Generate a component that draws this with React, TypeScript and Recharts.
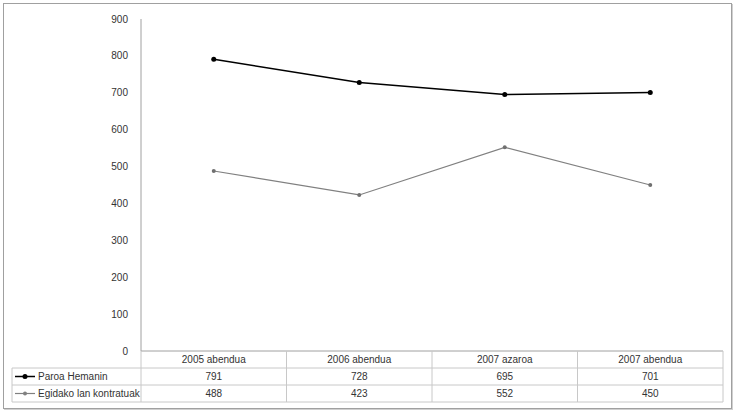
import React from 'react';
import { LineChart, Line, XAxis, YAxis } from 'recharts';

const categories = ['2005 abendua', '2006 abendua', '2007 azaroa', '2007 abendua'];
const paroaHemanin = [791, 728, 695, 701];
const egidakoLan = [488, 423, 552, 450];
const yTicks = [0, 100, 200, 300, 400, 500, 600, 700, 800, 900];

const seriesNames = ['Paroa Hemanin', 'Egidako lan kontratuak'];
const seriesColors = ['#000000', '#808080'];

const W = 735;
const H = 413;
const Y_W = 141;
const MARGIN = { top: 19, right: 12, bottom: 0, left: 0 };
const FONT = 'Liberation Sans, Arial, sans-serif';
const TEXT = '#333333';
const TABLE_LINE = '#c8c8c8';
const ROW_H = 17;
const LEGEND_LEFT = 12;

const data = categories.map((name, i) => ({
  name,
  paroa: paroaHemanin[i],
  egidako: egidakoLan[i],
}));

const colW = (W - MARGIN.left - MARGIN.right - Y_W) / categories.length;

// one column of the data table under each category, the first tick also draws the legend column
const TableTick = (props: any) => {
  const { x, y, payload, index } = props;
  const left = x - colW / 2;
  const right = x + colW / 2;
  const rows = [paroaHemanin[index], egidakoLan[index]];
  return (
    <g>
      <text x={x} y={y + ROW_H / 2 + 1} textAnchor="middle" dominantBaseline="middle" fontSize={10} fill={TEXT} fontFamily={FONT}>
        {payload.value}
      </text>
      {rows.map((v, r) => (
        <text key={r} x={x} y={y + ROW_H * (r + 1) + ROW_H / 2 + 1} textAnchor="middle" dominantBaseline="middle" fontSize={10} fill={TEXT} fontFamily={FONT}>
          {v}
        </text>
      ))}
      <line x1={right} x2={right} y1={y} y2={y + ROW_H * 3} stroke={TABLE_LINE} />
      {index === 0 && (
        <g>
          <line x1={left} x2={left} y1={y} y2={y + ROW_H * 3} stroke={TABLE_LINE} />
          <line x1={LEGEND_LEFT} x2={LEGEND_LEFT} y1={y + ROW_H} y2={y + ROW_H * 3} stroke={TABLE_LINE} />
          {[1, 2, 3].map((r) => (
            <line key={r} x1={LEGEND_LEFT} x2={left + colW * categories.length} y1={y + ROW_H * r} y2={y + ROW_H * r} stroke={TABLE_LINE} />
          ))}
          {seriesNames.map((s, r) => {
            const cy = y + ROW_H * (r + 1) + ROW_H / 2;
            return (
              <g key={s}>
                <line x1={15} x2={35} y1={cy} y2={cy} stroke={seriesColors[r]} strokeWidth={r === 0 ? 1.5 : 1.2} />
                <circle cx={25} cy={cy} r={r === 0 ? 2.5 : 2} fill={seriesColors[r]} />
                <text x={38} y={cy + 1} dominantBaseline="middle" fontSize={10} fill={TEXT} fontFamily={FONT}>
                  {s}
                </text>
              </g>
            );
          })}
        </g>
      )}
    </g>
  );
};

export default function App() {
  return (
    <div style={{ position: 'absolute', left: 0, top: 0, width: W, height: H, background: '#fff' }}>
      <div
        style={{
          position: 'absolute',
          left: 3,
          top: 3,
          width: 727,
          height: 404,
          border: '1px solid #a0a0a0',
          boxShadow: '1px 1px 0 #d0d0d0',
        }}
      />
      <div style={{ position: 'absolute', left: 0, top: 0 }}>
        <LineChart width={W} height={H} data={data} margin={MARGIN}>
          <XAxis
            dataKey="name"
            height={H - 351}
            padding={{ left: colW / 2, right: colW / 2 }}
            axisLine={{ stroke: '#a0a0a0' }}
            tickLine={false}
            tickSize={0}
            tickMargin={0}
            interval={0}
            tick={<TableTick />}
          />
          <XAxis
            xAxisId="top"
            dataKey="name"
            orientation="top"
            height={0}
            padding={{ left: colW / 2, right: colW / 2 }}
            tick={false}
            tickLine={false}
            axisLine={{ stroke: '#a0a0a0' }}
          />
          <YAxis
            width={Y_W}
            domain={[0, 900]}
            ticks={yTicks}
            interval={0}
            tickLine={false}
            tickMargin={7}
            axisLine={{ stroke: '#a0a0a0' }}
            tick={{ fontSize: 10, fill: TEXT, fontFamily: FONT }}
          />
          <YAxis yAxisId="right" orientation="right" width={0} tick={false} tickLine={false} axisLine={{ stroke: '#a0a0a0' }} />
          <Line
            dataKey="paroa"
            stroke={seriesColors[0]}
            strokeWidth={1.5}
            dot={{ r: 2.5, fill: seriesColors[0], stroke: seriesColors[0], strokeWidth: 0 }}
            isAnimationActive={false}
          />
          <Line
            dataKey="egidako"
            stroke={seriesColors[1]}
            strokeWidth={1.2}
            dot={{ r: 2, fill: '#707070', stroke: '#707070', strokeWidth: 0 }}
            isAnimationActive={false}
          />
        </LineChart>
      </div>
    </div>
  );
}
